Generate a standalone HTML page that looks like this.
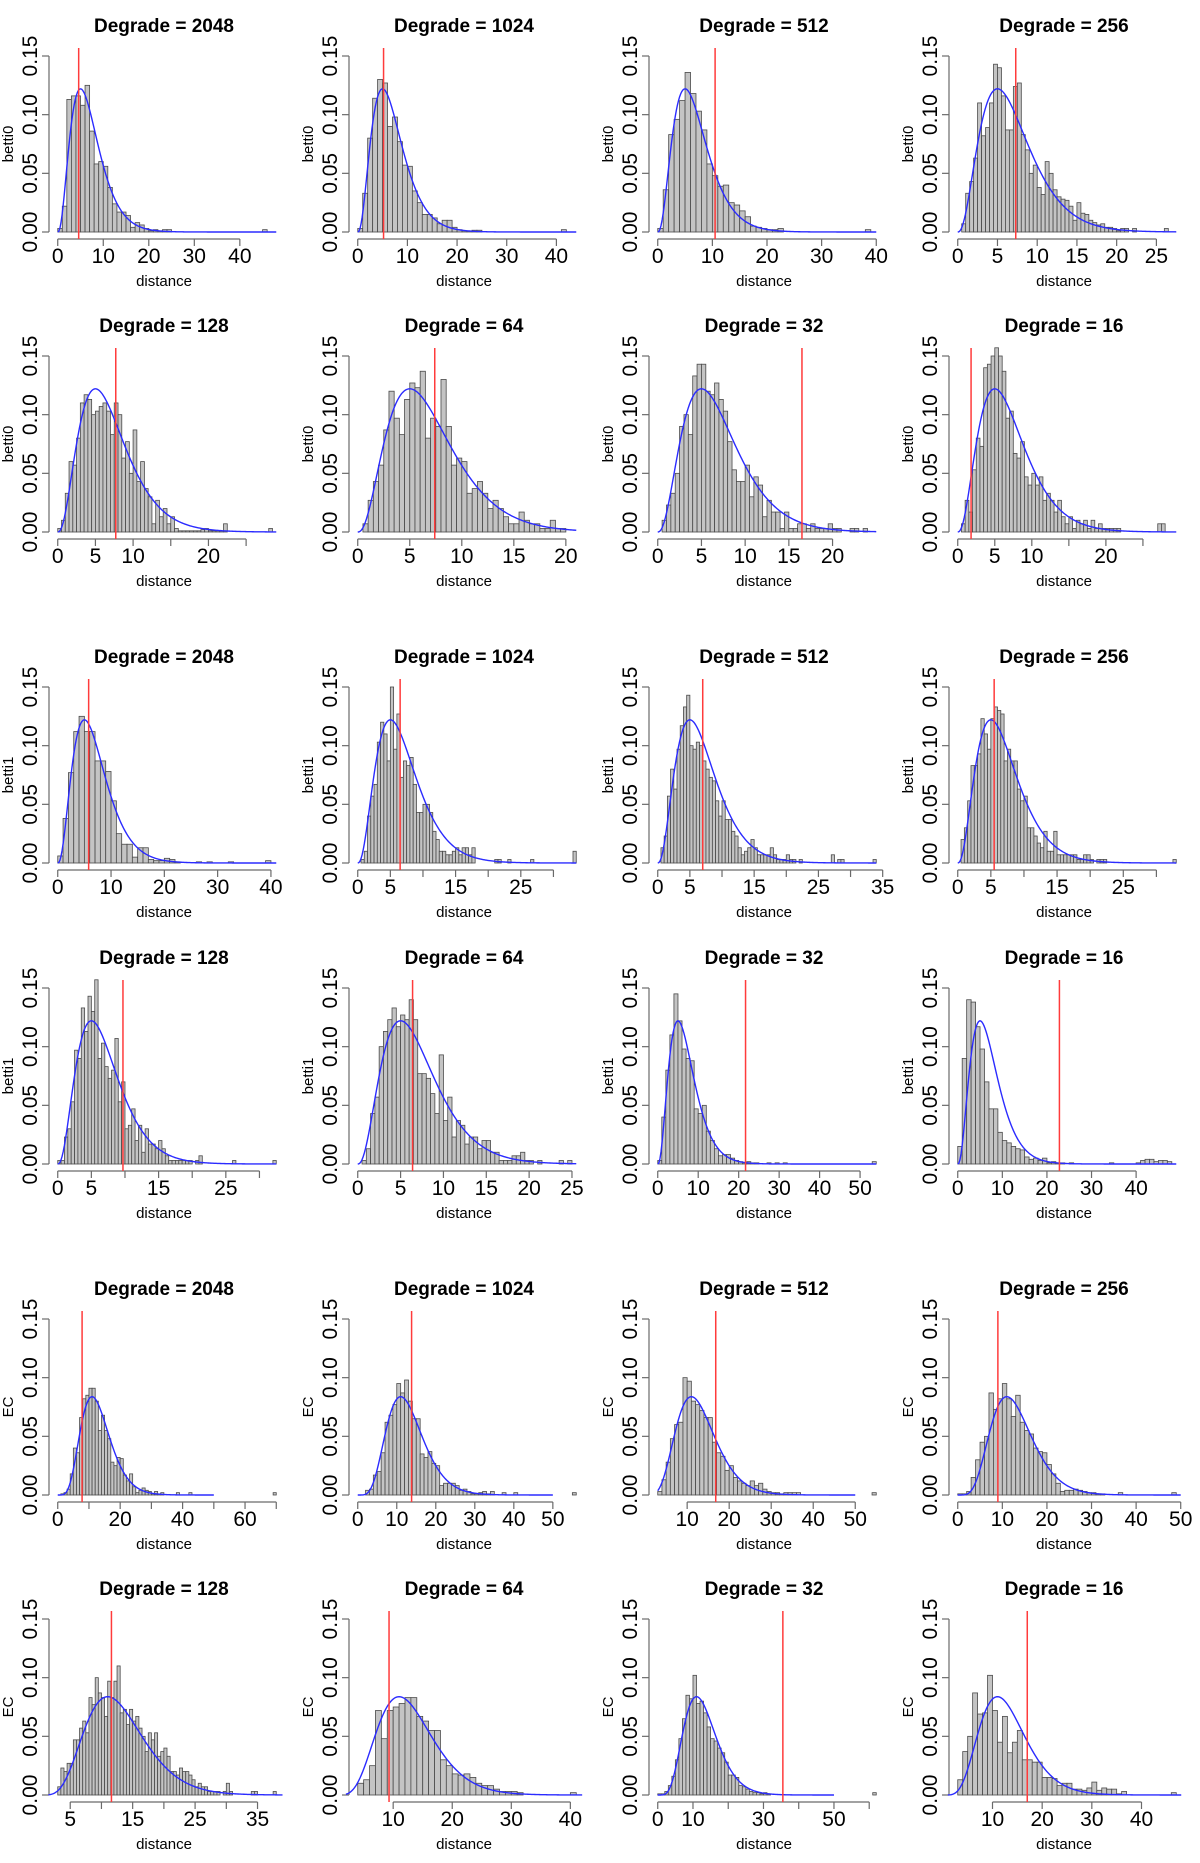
<!DOCTYPE html>
<html><head><meta charset="utf-8"><title>Degrade histograms</title>
<style>
html,body{margin:0;padding:0;background:#fff;}
svg{display:block;font-family:"Liberation Sans",Arial,sans-serif;}
</style></head>
<body>
<svg id="chart" width="1200" height="1863" viewBox="0 0 1200 1863" xmlns="http://www.w3.org/2000/svg"></svg>
<script>
// ---- data (one entry per panel, row-major, 4 columns x 6 rows) ----
const titles = ["2048","1024","512","256","128","64","32","16","2048","1024","512","256","128","64","32","16","2048","1024","512","256","128","64","32","16"];
const yLabels = ["betti0","betti0","betti0","betti0","betti0","betti0","betti0","betti0","betti1","betti1","betti1","betti1","betti1","betti1","betti1","betti1","EC","EC","EC","EC","EC","EC","EC","EC"];
const dataMin = [0,0,0,0, 0,0,0,0, 0,0,0,0, 0,0,0,0, 0,0,3,0, 3,4,0,3];
const dataMax = [48,44,40,27.5, 29,21,25,29.5, 41,33.5,34,33, 32.5,25.5,54,49, 70,56,55,49, 38,41,62,47];
const binStart = [0,0,0,0.5, 0,0.5,0.5,0.5, 0,0.5,0.5,0.5, 0,0.5,0,0, 0,2,3,0, 3,4,0,3];
const binWidth = [1,1,1,0.5, 0.5,0.5,0.5,0.5, 1,0.5,0.5,0.5, 0.5,0.5,1,1, 1,1,1,1, 0.5,1,1,1];
const heights = [
 [0.003,0.022,0.113,0.116,0.116,0.108,0.125,0.086,0.058,0.060,0.056,0.038,0.024,0.017,0.017,0.014,0.004,0.008,0.006,0.003,0.001,0.002,0.001,0.002,0.002],
 [0.003,0.033,0.080,0.114,0.130,0.127,0.090,0.098,0.077,0.057,0.056,0.035,0.025,0.015,0.015,0.012,0.007,0.010,0.010,0.004,0.002,0.001,0.001,0.0015,0.0015],
 [0.003,0.036,0.083,0.096,0.112,0.136,0.118,0.103,0.087,0.058,0.048,0.039,0.040,0.025,0.023,0.018,0.013,0.005,0.004,0.003,0.002,0.002,0.003],
 [0.007,0.033,0.043,0.063,0.110,0.082,0.089,0.110,0.143,0.140,0.116,0.087,0.087,0.124,0.127,0.083,0.070,0.050,0.057,0.038,0.032,0.060,0.050,0.036,0.030,0.028,0.027,0.022,0.010,0.025,0.016,0.015,0.010,0.008,0.006,0.007,0.004,0.004,0.003,0.001,0.003,0.003,0,0.003],
 [0.003,0.010,0.033,0.060,0.057,0.080,0.110,0.117,0.113,0.100,0.103,0.107,0.110,0.103,0.083,0.110,0.100,0.063,0.077,0.050,0.087,0.043,0.060,0.037,0.030,0.007,0.027,0.013,0.020,0.007,0.013,0.003,0.001,0.001,0.001,0.001,0.001,0.001,0.002,0.003,0.001,0.001,0.001,0.001,0.007],
 [0.007,0.027,0.043,0.057,0.087,0.120,0.097,0.083,0.113,0.127,0.123,0.137,0.080,0.097,0.090,0.130,0.090,0.057,0.063,0.060,0.033,0.037,0.043,0.033,0.020,0.027,0.020,0.013,0.007,0.007,0.017,0.010,0.007,0.007,0.003,0.003,0.010,0.003,0.003],
 [0.010,0.023,0.033,0.050,0.090,0.100,0.083,0.133,0.143,0.143,0.120,0.117,0.127,0.113,0.103,0.077,0.053,0.043,0.043,0.057,0.030,0.047,0.040,0.013,0.027,0.017,0.017,0.003,0.017,0.003,0.003,0.007,0.007,0.003,0.007,0.003,0.003,0.003,0.007,0.003,0.003,0,0,0.003,0.003,0,0.003],
 [0.007,0.027,0.017,0.053,0.080,0.073,0.140,0.143,0.150,0.157,0.150,0.137,0.097,0.103,0.067,0.063,0.077,0.047,0.040,0.050,0.040,0.047,0.027,0.033,0.027,0.017,0.027,0.013,0.007,0.013,0.003,0.010,0.007,0.010,0.003,0.010,0.003,0.007,0.003,0.003,0.003,0.003,0.003],
 [0.006,0.038,0.077,0.112,0.125,0.112,0.112,0.087,0.087,0.078,0.053,0.025,0.016,0.016,0.005,0.013,0.013,0.003,0.002,0.002,0.004,0.003,0.001],
 [0.003,0.010,0.040,0.057,0.067,0.103,0.120,0.110,0.087,0.150,0.097,0.127,0.073,0.087,0.083,0.090,0.067,0.043,0.043,0.050,0.050,0.043,0.027,0.020,0.010,0.010,0.007,0.007,0.010,0.013,0.007,0.013,0.013,0.007,0.013],
 [0.013,0.023,0.057,0.080,0.063,0.097,0.117,0.133,0.143,0.100,0.097,0.103,0.100,0.087,0.080,0.073,0.070,0.053,0.040,0.053,0.037,0.037,0.027,0.023,0.013,0.007,0.010,0.013,0.020,0.013,0.007,0.007,0.007,0.007,0.013,0.007,0.003,0.003,0.003,0.007,0.003,0.003],
 [0.020,0.030,0.053,0.083,0.083,0.093,0.123,0.110,0.097,0.123,0.133,0.130,0.127,0.087,0.097,0.087,0.087,0.063,0.053,0.057,0.030,0.030,0.023,0.017,0.013,0.027,0.010,0.010,0.027,0.007,0.007,0.007,0.007,0.007,0.007,0.003,0.003,0.007,0.007,0.003,0,0.003,0.003,0.003],
 [0.003,0.003,0.023,0.030,0.053,0.097,0.090,0.133,0.113,0.143,0.130,0.157,0.090,0.103,0.083,0.073,0.080,0.107,0.053,0.070,0.030,0.033,0.047,0.020,0.033,0.010,0.030,0.017,0.017,0.013,0.020,0.013,0.007,0.003,0.003,0.003,0.003,0.003,0.003,0.003,0,0.003,0.007],
 [0.003,0.013,0.043,0.057,0.100,0.113,0.123,0.133,0.117,0.127,0.123,0.140,0.123,0.077,0.077,0.073,0.060,0.043,0.093,0.037,0.057,0.023,0.037,0.033,0.017,0.023,0.023,0.013,0.020,0.020,0.010,0.010,0.003,0.003,0.003,0.007,0.007,0.010,0.003,0.003,0,0.003],
 [0.003,0.040,0.080,0.110,0.145,0.122,0.098,0.090,0.088,0.047,0.043,0.050,0.028,0.020,0.013,0.007,0.008,0.008,0.005,0.003,0.002,0.001,0.002,0.001,0.001,0,0,0.001,0,0.001,0,0.001],
 [0.015,0.090,0.140,0.138,0.117,0.098,0.070,0.047,0.047,0.027,0.020,0.018,0.015,0.013,0.012,0.006,0.004,0.005,0.003,0.005,0.001,0.002,0.001,0.001,0,0.001],
 [0,0.001,0.002,0.005,0.018,0.040,0.036,0.066,0.082,0.085,0.091,0.091,0.080,0.055,0.068,0.055,0.048,0.028,0.025,0.032,0.031,0.017,0.012,0.018,0.007,0.002,0.004,0.006,0.004,0.003,0.001,0.003,0.001,0.002],
 [0.004,0.005,0.017,0.020,0.036,0.062,0.068,0.077,0.095,0.087,0.098,0.080,0.065,0.065,0.035,0.032,0.037,0.027,0.025,0.008,0.010,0.010,0.010,0.008,0.004,0.005,0.003,0.001,0.001,0.002,0.003,0.001,0.003],
 [0.003,0.013,0.028,0.048,0.060,0.062,0.100,0.097,0.080,0.077,0.072,0.066,0.066,0.045,0.036,0.033,0.021,0.025,0.015,0.012,0.010,0.008,0.012,0.008,0.010,0.005,0.003,0.002,0.002,0.001,0.002,0.002,0.002,0.002],
 [0.001,0.001,0.003,0.015,0.030,0.045,0.050,0.087,0.073,0.082,0.095,0.082,0.067,0.085,0.062,0.055,0.052,0.040,0.037,0.036,0.026,0.018,0.010,0.003,0.004,0.004,0.005,0.004,0.003,0.002,0.002,0.001,0.001],
 [0.007,0.023,0.020,0.027,0.027,0.047,0.047,0.057,0.063,0.053,0.083,0.077,0.100,0.087,0.083,0.067,0.097,0.083,0.097,0.110,0.070,0.073,0.060,0.073,0.063,0.067,0.057,0.050,0.037,0.053,0.047,0.053,0.033,0.037,0.040,0.033,0.020,0.020,0.017,0.023,0.020,0.020,0.017,0.013,0.007,0.010,0.007,0.007,0.003,0.003,0.003,0.003,0,0.003,0.010,0.003],
 [0.010,0.013,0.025,0.072,0.048,0.072,0.075,0.078,0.083,0.083,0.067,0.063,0.055,0.055,0.030,0.025,0.018,0.017,0.018,0.015,0.010,0.008,0.008,0.005,0.003,0.003,0.003,0.002],
 [0.001,0.001,0.003,0.008,0.016,0.030,0.048,0.065,0.085,0.082,0.102,0.078,0.080,0.070,0.058,0.048,0.046,0.040,0.036,0.028,0.017,0.017,0.015,0.008,0.007,0.005,0.003,0.002,0.002,0.001,0.002,0.001],
 [0.013,0.037,0.050,0.087,0.069,0.070,0.102,0.072,0.045,0.067,0.036,0.045,0.055,0.030,0.030,0.028,0.028,0.015,0.015,0.014,0.008,0.010,0.010,0.005,0.005,0.004,0.006,0.011,0.004,0.006,0.005,0.005,0.001,0.003]
];
// sparse outlier bins: [bin start, density]
const tails = [
 [[45,0.002]],[[41,0.002]],[[38,0.002]],[[26,0.003]],
 [[28,0.003]],[],[],[[27,0.007],[27.5,0.007]],
 [[26,0.001],[28,0.001],[32,0.001],[39,0.002]],[[21,0.003],[21.5,0.003],[23,0.003],[26.5,0.003],[33,0.010]],[[22,0.003],[27,0.007],[28,0.003],[28.5,0.003],[33.5,0.003]],[[32.5,0.003]],
 [[26,0.003],[32,0.003]],[[23.5,0.003],[24.5,0.003]],[[53,0.002]],[[34,0.001],[40,0.001],[41,0.003],[42,0.004],[43,0.004],[44,0.002],[45,0.003],[46,0.003],[47,0.002]],
 [[38,0.002],[42,0.002],[69,0.002]],[[37,0.002],[40,0.002],[55,0.002]],[[54,0.002]],[[36,0.002],[48,0.002]],
 [[34,0.003],[34.5,0.003],[37.5,0.003]],[[40,0.002]],[[61,0.002]],[[46,0.002]]
];
const redX = [4.6,5.2,10.5,7.3, 7.7,7.4,16.5,1.8, 5.8,6.5,7.0,5.5, 9.7,6.4,21.7,22.8, 7.8,13.8,16.8,9.0, 11.6,9.3,35.5,17];
const curveMin = [0,0,0,0, 0,0,0,0, 0,0,0,0, 0,0,0,0, 0,0,3,0, 1.5,2,0,1];
const curveMax = [48,44,40,27.5, 29,21,25,29.5, 41,33.5,34,33, 32.5,25.5,54,49, 50,50,50,50, 39,42,50,48];
const fitShape = [3.5,3.5,3.5,3.5, 3.5,3.5,3.5,3.5, 3.5,3.5,3.5,3.5, 3.5,3.5,3.5,3.5, 6.5,6.5,6.5,6.5, 6.5,6.5,6.5,6.5];
const fitScale = [2,2,2,2, 2,2,2,2, 2,2,2,2, 2,2,2,2, 2,2,2,2, 2,2,2,2];
const xTicks = [
 [0,10,20,30,40],[0,10,20,30,40],[0,10,20,30,40],[0,5,10,15,20,25],
 [0,5,10,15,20,25],[0,5,10,15,20],[0,5,10,15,20],[0,5,10,15,20,25],
 [0,10,20,30,40],[0,5,10,15,20,25,30],[0,5,10,15,20,25,30,35],[0,5,10,15,20,25,30],
 [0,5,10,15,20,25,30],[0,5,10,15,20,25],[0,10,20,30,40,50],[0,10,20,30,40],
 [0,10,20,30,40,50,60,70],[0,10,20,30,40,50],[10,20,30,40,50],[0,10,20,30,40,50],
 [5,10,15,20,25,30,35],[10,20,30,40],[0,10,20,30,40,50,60],[10,20,30,40]
];
const xTickLabels = [
 ["0","10","20","30","40"],["0","10","20","30","40"],["0","10","20","30","40"],["0","5","10","15","20","25"],
 ["0","5","10","","20",""],["0","5","10","15","20"],["0","5","10","15","20"],["0","5","10","","20",""],
 ["0","10","20","30","40"],["0","5","","15","","25",""],["0","5","","15","","25","","35"],["0","5","","15","","25",""],
 ["0","5","","15","","25",""],["0","5","10","15","20","25"],["0","10","20","30","40","50"],["0","10","20","30","40"],
 ["0","","20","","40","","60",""],["0","10","20","30","40","50"],["10","20","30","40","50"],["0","10","20","30","40","50"],
 ["5","","15","","25","","35"],["10","20","30","40"],["0","10","","30","","50",""],["10","20","30","40"]
];
const yTicks = [0, 0.05, 0.10, 0.15];
const yTickLabels = ["0.00","0.05","0.10","0.15"];
const gammaConst = {3.5: 3.32335, 6.5: 287.885};

// ---- layout ----
const rowZero = [232,532,863,1164,1495,1795];
const NS = "http://www.w3.org/2000/svg";
const svg = document.getElementById('chart');
function mk(tag, attrs, parent){
  const e = document.createElementNS(NS, tag);
  for (const k in attrs) e.setAttribute(k, attrs[k]);
  parent.appendChild(e);
  return e;
}
function gammaPdf(x, k, th){
  if (x <= 0) return 0;
  return Math.exp((k-1)*Math.log(x) - x/th) / (gammaConst[k] * Math.pow(th, k));
}

for (let p = 0; p < 24; p++){
  const col = p % 4, row = Math.floor(p / 4);
  const zero = rowZero[row];
  const L = 300*col + 49, R = 300*col + 285;
  const r = dataMax[p] - dataMin[p];
  const u0 = dataMin[p] - 0.04*r, u1 = dataMax[p] + 0.04*r;
  const px = x => L + (x - u0) / (u1 - u0) * (R - L);
  const py = v => zero - v * 176 / 0.15;

  const g = mk('g', {}, svg);
  
  

  const t = mk('text', {x: 300*col + 164, y: zero - 200, 'text-anchor': 'middle', 'font-size': 19, 'font-weight': 'bold', fill: '#000'}, g);
  t.textContent = 'Degrade = ' + titles[p];
  
  

  const yl = mk('text', {x: 300*col + 13, y: zero - 88, 'text-anchor': 'middle', 'font-size': 15, fill: '#000', transform: 'rotate(-90 ' + (300*col + 13) + ' ' + (zero - 88) + ')'}, g);
  yl.textContent = yLabels[p];
  
  

  const xl = mk('text', {x: 300*col + 164, y: zero + 54, 'text-anchor': 'middle', 'font-size': 15, fill: '#000'}, g);
  xl.textContent = 'distance';
  
  

  const ya = mk('g', {stroke: '#6a6a6a', 'stroke-width': 1.2}, g);
  
  
  mk('line', {x1: L, y1: py(0), x2: L, y2: py(0.15)}, ya);
  yTicks.forEach((v, i) => {
    mk('line', {x1: L, y1: py(v), x2: L - 7, y2: py(v)}, ya);
    const lb = mk('text', {x: L - 12, y: py(v), 'text-anchor': 'middle', 'font-size': 21, fill: '#000', stroke: 'none', transform: 'rotate(-90 ' + (L - 12) + ' ' + py(v) + ')'}, g);
    lb.textContent = yTickLabels[i];
    
    
  });

  const xa = mk('g', {stroke: '#6a6a6a', 'stroke-width': 1.2}, g);
  
  
  const tk = xTicks[p];
  mk('line', {x1: px(tk[0]), y1: zero + 7, x2: px(tk[tk.length-1]), y2: zero + 7}, xa);
  tk.forEach((v, i) => {
    mk('line', {x1: px(v), y1: zero + 7, x2: px(v), y2: zero + 14}, xa);
    if (xTickLabels[p][i] !== ''){
      const lb = mk('text', {x: px(v), y: zero + 31, 'text-anchor': 'middle', 'font-size': 21, fill: '#000', stroke: 'none'}, g);
      lb.textContent = xTickLabels[p][i];
      
      
    }
  });

  const bars = mk('g', {fill: '#c4c4c4', stroke: '#4a4a4a', 'stroke-width': 0.8}, g);
  
  
  const bw = binWidth[p];
  const bins = new Map();
  heights[p].forEach((h, i) => bins.set(+(binStart[p] + i*bw).toFixed(3), h));
  const lastMain = binStart[p] + heights[p].length*bw;
  for (let x = lastMain; x < dataMax[p] - 1e-9; x += bw){
    const key = +x.toFixed(3);
    if (!bins.has(key)) bins.set(key, 0);
  }
  tails[p].forEach(tp => bins.set(+tp[0].toFixed(3), tp[1]));
  bins.forEach((h, x) => {
    const x0 = px(x), x1 = px(x + bw);
    const y0 = py(h);
    const b = mk('rect', {x: x0, y: y0, width: x1 - x0, height: Math.max(0, zero - y0)}, bars);
    
    
  });

  let d = '';
  const n = 200;
  for (let i = 0; i <= n; i++){
    const x = curveMin[p] + (curveMax[p] - curveMin[p]) * i / n;
    d += (i ? 'L' : 'M') + px(x).toFixed(2) + ' ' + py(gammaPdf(x, fitShape[p], fitScale[p])).toFixed(2);
  }
  const c = mk('path', {d: d, fill: 'none', stroke: '#2b2bff', 'stroke-width': 1.4}, g);
  
  

  const rl = mk('line', {x1: px(redX[p]), y1: zero - 184, x2: px(redX[p]), y2: zero + 7, stroke: '#ff3b3b', 'stroke-width': 1.5}, g);
  
  
}
</script>
</body></html>
